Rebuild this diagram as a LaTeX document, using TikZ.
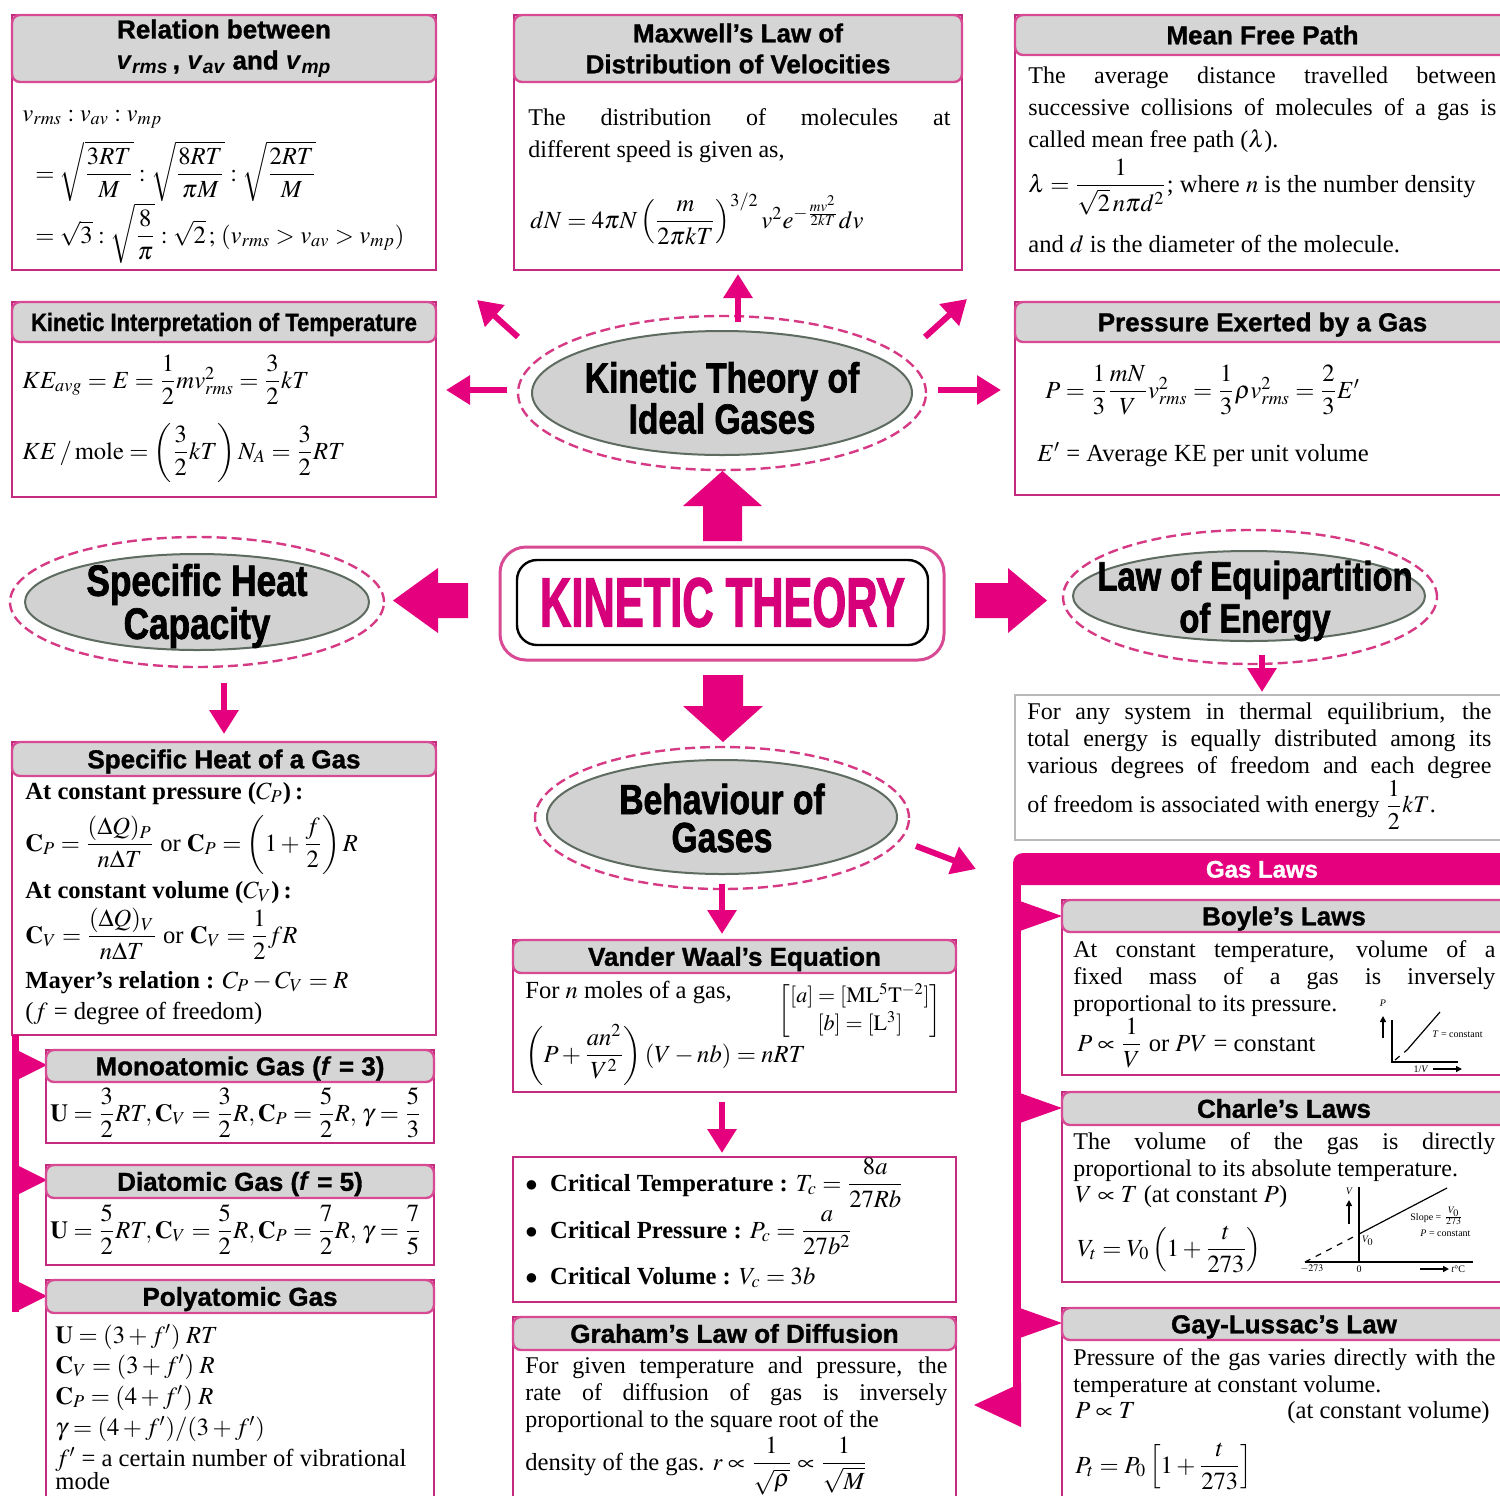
\documentclass[tikz,border=0pt]{standalone}
\usepackage{amsmath}
\usepackage{mathptmx}
\usepackage[no-math]{fontspec}
\setmainfont{Liberation Serif}
\newfontfamily\hdr[BoldFeatures={FakeBold=1.2}]{Liberation Sans}
\newfontfamily\hdrc[FakeStretch=0.88,BoldFeatures={FakeBold=1.2}]{Liberation Sans}
\newfontfamily\ellf[FakeStretch=0.8,BoldFeatures={FakeBold=1.6}]{Liberation Sans}
\newfontfamily\ktf[FakeStretch=0.62,BoldFeatures={FakeBold=1.5}]{Liberation Sans}
\usetikzlibrary{arrows.meta,fit,shapes.geometric}
\definecolor{mag}{HTML}{E5007D}
\definecolor{ktc}{HTML}{D6007A}
\definecolor{bline}{HTML}{C42A7E}
\definecolor{hline}{HTML}{D84A93}
\definecolor{hgray}{HTML}{D5D5D5}
\definecolor{egray}{HTML}{D2D2D2}
\definecolor{eline}{HTML}{5E6B60}
\definecolor{dline}{HTML}{D63A85}
\tikzset{
 outer/.style={draw=bline, line width=1.4pt, inner sep=0pt},
 hdrbox/.style={draw=hline, fill=hgray, line width=1.2pt, rounded corners=4pt, inner sep=0pt},
 hdrtxt/.style={inner sep=0pt, align=center, font=\hdr\bfseries\fontsize{13}{15.5}\selectfont},
 hdrone/.style={inner sep=0pt, text height=9.3pt, text depth=0pt, font=\hdr\bfseries\fontsize{13}{15.5}\selectfont},
 body/.style={inner sep=0pt, anchor=base west, font=\fontsize{12.3}{16}\selectfont},
 para/.style={inner sep=0pt, anchor=north west, font=\fontsize{12}{13.5}\selectfont, align=justify},
 thinarr/.style={draw=mag, line width=3pt, -{Triangle[length=12pt,width=14pt]}},
 ellg/.style={ellipse, fill=egray, draw=eline, line width=1pt, inner sep=0pt},
 elld/.style={ellipse, draw=dline, line width=1.2pt, dash pattern=on 5pt off 2.5pt, inner sep=0pt},
 elltext/.style={font=\ellf\bfseries\fontsize{21}{19}\selectfont, align=center, inner sep=0pt},
 tiny/.style={inner sep=0pt, font=\fontsize{5}{6}\selectfont},
}
\begin{document}
\begin{tikzpicture}[x=0.5pt,y=-0.5pt]
\path[use as bounding box, clip] (0,0) rectangle (1500,1495);
\fill[white] (0,0) rectangle (1500,1495);

% ---------- Relation between ----------
\node[outer, fit={(12,15)(436,270)}] (relB) {};
\node[hdrbox, fit={(12,15)(436,82)}] (relH) {};
\node[hdrtxt] (relHt) at (relH.center) {Relation between\\ \textit{v}$_{\textit{rms}}$\,, \textit{v}$_{\textit{av}}$ and \textit{v}$_{\textit{mp}}$};
\node[body] (relL1) at (22,121) {$v_{rms}:v_{av}:v_{mp}$};
\node[body] (relL2) at (35,181) {$=\sqrt{\dfrac{3RT}{M}}:\sqrt{\dfrac{8RT}{\pi M}}:\sqrt{\dfrac{2RT}{M}}$};
\node[body] (relL3) at (35,243) {$=\sqrt{3}:\sqrt{\dfrac{8}{\pi}}:\sqrt{2}\,;\,(v_{rms}>v_{av}>v_{mp})$};

% ---------- Maxwell ----------
\node[outer, fit={(514,15)(962,270)}] (maxB) {};
\node[hdrbox, fit={(514,15)(962,82)}] (maxH) {};
\node[hdrtxt] (maxHt) at (maxH.center) {Maxwell’s Law of\\Distribution of Velocities};
\node[para, text width=211pt, font=\fontsize{12}{16}\selectfont] (maxT) at (528,108) {The distribution of molecules at\linebreak different speed is given as,};
\node[body] (maxE) at (530,228) {$dN=4\pi N\left(\dfrac{m}{2\pi kT}\right)^{3/2}v^2e^{-\frac{mv^2}{2kT}}dv$};

% ---------- Mean free path ----------
\node[outer, fit={(1015,15)(1510,270)}] (mfpB) {};
\node[hdrbox, fit={(1015,15)(1510,55)}] (mfpH) {};
\node[hdrone] (mfpHt) at (mfpH.center) {Mean Free Path};
\node[para, text width=234pt, font=\fontsize{12}{16}\selectfont] (mfpT) at (1028,66) {The average distance travelled between\linebreak successive collisions of molecules of a gas is\linebreak called mean free path ($\lambda$).};
\node[body] (mfpE) at (1028,192) {$\lambda=\dfrac{1}{\sqrt{2}\,n\pi d^2}$; where $n$ is the number density};
\node[body] (mfpL) at (1028,252) {and $d$ is the diameter of the molecule.};

% ---------- Kinetic interpretation ----------
\node[outer, fit={(12,302)(436,497)}] (kitB) {};
\node[hdrbox, fit={(12,302)(436,342)}] (kitH) {};
\node[hdrone, font=\hdrc\bfseries\fontsize{12.5}{15}\selectfont, text height=9pt] (kitHt) at (kitH.center) {Kinetic Interpretation of Temperature};
\node[body] (kitL1) at (22,388) {$KE_{avg}=E=\dfrac{1}{2}mv_{rms}^2=\dfrac{3}{2}kT$};
\node[body] (kitL2) at (22,459) {$KE\,/\,\mathrm{mole}=\left(\dfrac{3}{2}kT\right)N_A=\dfrac{3}{2}RT$};

% ---------- Pressure ----------
\node[outer, fit={(1015,302)(1510,495)}] (pexB) {};
\node[hdrbox, fit={(1015,302)(1510,342)}] (pexH) {};
\node[hdrone] (pexHt) at (pexH.center) {Pressure Exerted by a Gas};
\node[body] (pexL1) at (1045,398) {$P=\dfrac{1}{3}\dfrac{mN}{V}v_{rms}^2=\dfrac{1}{3}\rho v_{rms}^2=\dfrac{2}{3}E'$};
\node[body] (pexL2) at (1037,461) {$E'$ = Average KE per unit volume};

% ---------- Ellipses ----------
\node[elld, minimum width=204pt, minimum height=77pt] (ktD) at (722,393) {};
\node[ellg, minimum width=190pt, minimum height=62pt] (kt) at (722,393) {};
\node[elltext] (ktT) at (722,398) {Kinetic Theory of\\Ideal Gases};

\node[elld, minimum width=187pt, minimum height=65pt] (shcD) at (197,602) {};
\node[ellg, minimum width=172pt, minimum height=48pt] (shc) at (197,602) {};
\node[elltext, font=\ellf\bfseries\fontsize{22}{19}\selectfont] (shcT) at (197,606) {Specific Heat\\Capacity};

\node[elld, minimum width=187pt, minimum height=67pt] (lepD) at (1250,597) {};
\node[ellg, minimum width=176pt, minimum height=45pt] (lep) at (1249,596) {};
\node[elltext, font=\ellf\bfseries\fontsize{20.5}{21}\selectfont] (lepT) at (1255,601) {Law of Equipartition\\of Energy};

\node[elld, minimum width=187pt, minimum height=71pt] (bogD) at (722,818) {};
\node[ellg, minimum width=175pt, minimum height=57pt] (bog) at (722,817) {};
\node[elltext] (bogT) at (722,818) {Behaviour of\\Gases};

% ---------- KINETIC THEORY ----------
\node[draw=hline, line width=1.5pt, rounded corners=13pt, minimum width=222pt, minimum height=56.5pt, inner sep=0pt] (ktO) at (722,603.5) {};
\node[draw=black, line width=1.2pt, rounded corners=10pt, minimum width=205.5pt, minimum height=42.5pt, inner sep=0pt,
  font=\ktf\bfseries\fontsize{35}{40}\selectfont, text=ktc] (ktI) at (722.5,602.5) {KINETIC THEORY};

% ---------- Block arrows ----------
\fill[mag] (703,541)--(703,506)--(683,506)--(722.5,471)--(762,506)--(742,506)--(742,541)--cycle;
\fill[mag] (468,583)--(438,583)--(438,568)--(393,600.5)--(438,633)--(438,618)--(468,618)--cycle;
\fill[mag] (975,583)--(1008,583)--(1008,568)--(1047,600.5)--(1008,633)--(1008,618)--(975,618)--cycle;
\fill[mag] (703,675)--(743,675)--(743,706)--(763,706)--(723,742)--(683,706)--(703,706)--cycle;

% ---------- Thin arrows ----------
\coordinate (aUs) at (738,322); \coordinate (aUe) at (738,274);
\coordinate (aULs) at (518,337); \coordinate (aULe) at (477,300);
\coordinate (aURs) at (925,337); \coordinate (aURe) at (967,299);
\coordinate (aLs) at (507,390); \coordinate (aLe) at (446,390);
\coordinate (aRs) at (938,390); \coordinate (aRe) at (1001,390);
\coordinate (aSs) at (224,683); \coordinate (aSe) at (224,734);
\coordinate (aEs) at (1262,655); \coordinate (aEe) at (1262,692);
\coordinate (aBs) at (722,884); \coordinate (aBe) at (722,934);
\coordinate (aDs) at (916,846); \coordinate (aDe) at (976,869);
\coordinate (aVs) at (722,1102); \coordinate (aVe) at (722,1153);
\draw[thinarr] (aUs) -- (aUe);
\draw[thinarr] (aULs) -- (aULe);
\draw[thinarr] (aURs) -- (aURe);
\draw[thinarr] (aLs) -- (aLe);
\draw[thinarr] (aRs) -- (aRe);
\draw[thinarr] (aSs) -- (aSe);
\draw[thinarr] (aEs) -- (aEe);
\draw[thinarr] (aBs) -- (aBe);
\draw[thinarr] (aDs) -- (aDe);
\draw[thinarr] (aVs) -- (aVe);

% ---------- Equipartition text ----------
\node[draw=gray!55, line width=0.8pt, inner sep=0pt, fit={(1015,695)(1510,840)}] (eqB) {};
\node[para, text width=232pt] (eqT) at (1027,702) {For any system in thermal equilibrium, the\linebreak total energy is equally distributed among its\linebreak various degrees of freedom and each degree\linebreak of freedom is associated with energy $\dfrac{1}{2}kT$.};

% ---------- Gas laws ----------
\fill[mag] (1013,885) [rounded corners=5pt] |- (1510,853) [sharp corners] -- (1510,885) -- cycle;
\node[inner sep=0pt, text=white, text height=8.6pt, text depth=0pt, font=\hdr\bfseries\fontsize{12}{14}\selectfont] (glT) at (1262,869) {Gas Laws};
\fill[mag] (1013,885) rectangle (1021,1422);
\fill[mag] (1017,900)--(1062,916)--(1017,932)--cycle;
\fill[mag] (1017,1092)--(1062,1108)--(1017,1124)--cycle;
\fill[mag] (1017,1307)--(1062,1323)--(1017,1339)--cycle;
\fill[mag] (1021,1383)--(974,1405)--(1021,1427)--cycle;

% Boyle
\node[outer, fit={(1062,900)(1510,1075)}] (boyB) {};
\node[hdrbox, fit={(1062,900)(1510,932)}] (boyH) {};
\node[hdrone] (boyHt) at (1284,916) {Boyle’s Laws};
\node[para, text width=211pt] (boyT) at (1073,940) {At constant temperature, volume of a\linebreak fixed mass of a gas is inversely\linebreak proportional to its pressure.};
\node[body] (boyE) at (1077,1051) {$P\propto\dfrac{1}{V}$ or $PV$ = constant};
\draw[line width=0.7pt] (1392,1020) -- (1392,1062) -- (1458,1062);
\draw[line width=1pt,-{Triangle[length=3pt,width=3pt]}] (1383,1038) -- (1383,1016);
\node[tiny, font=\itshape\fontsize{5}{6}\selectfont] (boyP) at (1383,1003) {P};
\draw[line width=0.6pt, dashed] (1395,1060) -- (1407,1050);
\draw[line width=0.6pt] (1407,1050) -- (1440,1012);
\node[tiny, anchor=west] (boyTc) at (1432,1034) {\textit{T} = constant};
\node[tiny] (boyV) at (1421,1069) {1/\textit{V}};
\draw[line width=0.8pt,-{Triangle[length=3pt,width=3pt]}] (1433,1069) -- (1462,1069);

% Charles
\node[outer, fit={(1062,1092)(1510,1282)}] (chaB) {};
\node[hdrbox, fit={(1062,1092)(1510,1125)}] (chaH) {};
\node[hdrone] (chaHt) at (1284,1108.5) {Charle’s Laws};
\node[para, text width=211pt] (chaT) at (1073,1132) {The volume of the gas is directly\linebreak proportional to its absolute temperature.};
\node[body] (chaL) at (1075,1202) {$V\propto T$ (at constant $P$)};
\node[body] (chaE) at (1077,1256) {$V_t=V_0\left(1+\dfrac{t}{273}\right)$};
\draw[line width=0.9pt] (1359,1187) -- (1359,1262);
\draw[line width=0.7pt] (1305,1262) -- (1473,1262);
\draw[line width=0.6pt] (1359,1234) -- (1447,1188);
\draw[line width=0.6pt, dashed] (1305,1262) -- (1359,1234);
\draw[line width=1pt,-{Triangle[length=3pt,width=3pt]}] (1349,1224) -- (1349,1200);
\node[tiny, font=\itshape\fontsize{5}{6}\selectfont] (chaV) at (1349,1191) {V};
\node[tiny] (chaV0) at (1368,1241) {$V_0$};
\node[tiny] (cham) at (1312,1269) {$-273$};
\node[tiny] (cha0) at (1359,1269) {0};
\draw[line width=0.8pt,-{Triangle[length=3pt,width=3pt]}] (1420,1269) -- (1449,1269);
\node[tiny, anchor=west] (chat) at (1451,1269) {\textit{t}\textdegree C};
\node[tiny, anchor=west] (chas) at (1410,1216) {Slope = $\frac{V_0}{273}$};
\node[tiny, anchor=west] (chap) at (1420,1233) {\textit{P} = constant};

% Gay-Lussac
\node[outer, fit={(1062,1308)(1510,1510)}] (gayB) {};
\node[hdrbox, fit={(1062,1308)(1510,1340)}] (gayH) {};
\node[hdrone] (gayHt) at (1284,1324) {Gay-Lussac’s Law};
\node[para, text width=211pt] (gayT) at (1073,1348) {Pressure of the gas varies directly with the\linebreak temperature at constant volume.};
\node[body] (gayL) at (1075,1418) {$P\propto T$};
\node[body, anchor=base east] (gayR) at (1490,1418) {(at constant volume)};
\node[body] (gayE) at (1075,1473) {$P_t=P_0\left[1+\dfrac{t}{273}\right]$};

% ---------- Left column ----------
\node[outer, fit={(12,742)(436,1035)}] (shgB) {};
\node[hdrbox, fit={(12,742)(436,776)}] (shgH) {};
\node[hdrone] (shgHt) at (shgH.center) {Specific Heat of a Gas};
\node[body] (shg1) at (25,799) {\textbf{At constant pressure (}$\boldsymbol{C_P}$\textbf{)\,:}};
\node[body] (shg2) at (25,851) {$\mathbf{C}_P=\dfrac{(\Delta Q)_P}{n\Delta T}$ or $\mathbf{C}_P=\left(1+\dfrac{f}{2}\right)R$};
\node[body] (shg3) at (25,898) {\textbf{At constant volume (}$\boldsymbol{C_V}$\textbf{)\,:}};
\node[body] (shg4) at (25,943) {$\mathbf{C}_V=\dfrac{(\Delta Q)_V}{n\Delta T}$ or $\mathbf{C}_V=\dfrac{1}{2}fR$};
\node[body] (shg5) at (25,988) {\textbf{Mayer’s relation :} $C_P-C_V=R$};
\node[body] (shg6) at (25,1019) {($f$ = degree of freedom)};

\fill[mag] (12,1035) rectangle (19,1312);
\fill[mag] (15,1049)--(47,1065)--(15,1081)--cycle;
\fill[mag] (15,1164)--(47,1180)--(15,1196)--cycle;
\fill[mag] (15,1280)--(47,1296)--(15,1312)--cycle;

\node[outer, fit={(46,1050)(434,1143)}] (monB) {};
\node[hdrbox, fit={(46,1050)(434,1082)}] (monH) {};
\node[hdrone] (monHt) at (monH.center) {Monoatomic Gas (\textit{f} = 3)};
\node[body] (monE) at (50,1121) {$\mathbf{U}=\dfrac{3}{2}RT,\mathbf{C}_V=\dfrac{3}{2}R,\mathbf{C}_P=\dfrac{5}{2}R,\,\gamma=\dfrac{5}{3}$};

\node[outer, fit={(46,1165)(434,1265)}] (diaB) {};
\node[hdrbox, fit={(46,1165)(434,1198)}] (diaH) {};
\node[hdrone] (diaHt) at (diaH.center) {Diatomic Gas (\textit{f} = 5)};
\node[body] (diaE) at (50,1238) {$\mathbf{U}=\dfrac{5}{2}RT,\mathbf{C}_V=\dfrac{5}{2}R,\mathbf{C}_P=\dfrac{7}{2}R,\,\gamma=\dfrac{7}{5}$};

\node[outer, fit={(46,1280)(434,1510)}] (polB) {};
\node[hdrbox, fit={(46,1280)(434,1313)}] (polH) {};
\node[hdrone] (polHt) at (polH.center) {Polyatomic Gas};
\node[body] (pol1) at (55,1343) {$\mathbf{U}=(3+f')\;RT$};
\node[body] (pol2) at (55,1373) {$\mathbf{C}_V=(3+f')\;R$};
\node[body] (pol3) at (55,1404) {$\mathbf{C}_P=(4+f')\;R$};
\node[body] (pol4) at (55,1435) {$\gamma=(4+f')/(3+f')$};
\node[body] (pol5) at (55,1466) {$f'$ = a certain number of vibrational};
\node[body] (pol6) at (55,1489) {mode};

% ---------- Middle column ----------
\node[outer, fit={(513,940)(956,1092)}] (vdwB) {};
\node[hdrbox, fit={(513,940)(956,973)}] (vdwH) {};
\node[hdrone] (vdwHt) at (vdwH.center) {Vander Waal’s Equation};
\node[body] (vdw1) at (525,998) {For $n$ moles of a gas,};
\node[inner sep=0pt, font=\fontsize{11}{14}\selectfont] (vdwM) at (860,1011) {$\begin{bmatrix}[a]=[\mathrm{ML^5T^{-2}}]\\ [b]=[\mathrm{L^3}]\end{bmatrix}$};
\node[body] (vdw2) at (525,1062) {$\left(P+\dfrac{an^2}{V^2}\right)(V-nb)=nRT$};

\node[outer, fit={(513,1157)(956,1302)}] (crB) {};
\node[body] (cr1) at (525,1191) {$\bullet$\ \ \textbf{Critical Temperature :} $T_c=\dfrac{8a}{27Rb}$};
\node[body] (cr2) at (525,1238) {$\bullet$\ \ \textbf{Critical Pressure :} $P_c=\dfrac{a}{27b^2}$};
\node[body] (cr3) at (525,1284) {$\bullet$\ \ \textbf{Critical Volume :} $V_c=3b$};

\node[outer, fit={(513,1317)(956,1510)}] (grB) {};
\node[hdrbox, fit={(513,1317)(956,1350)}] (grH) {};
\node[hdrone] (grHt) at (grH.center) {Graham’s Law of Diffusion};
\node[para, text width=211pt] (grT) at (525,1356) {\parfillskip=0pt For given temperature and pressure, the\linebreak rate of diffusion of gas is inversely\linebreak proportional to the square root of the};
\node[body] (grE) at (525,1470) {density of the gas. $r\propto\dfrac{1}{\sqrt{\rho}}\propto\dfrac{1}{\sqrt{M}}$};
\end{tikzpicture}
\end{document}
